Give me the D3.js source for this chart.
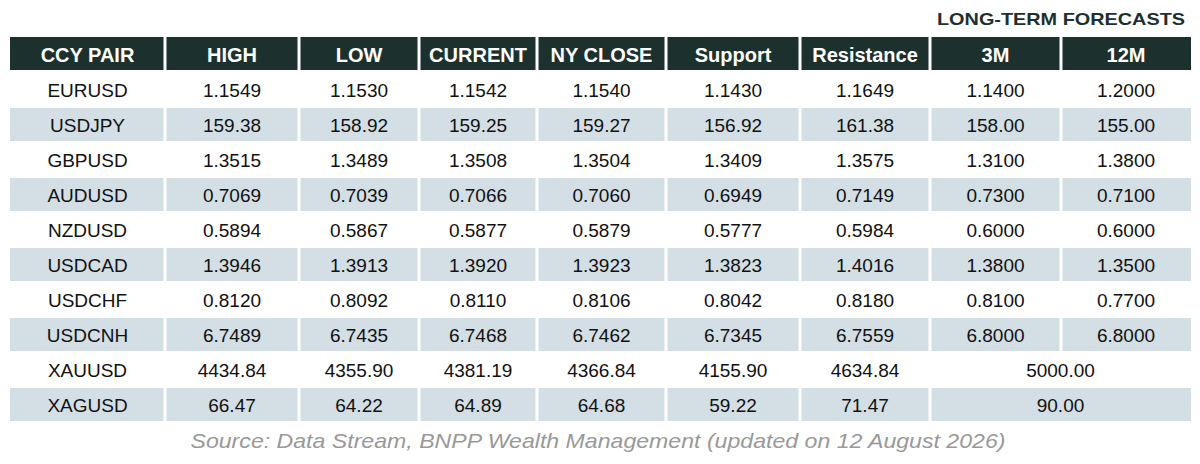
<!DOCTYPE html>
<html><head><meta charset="utf-8">
<script src="https://cdn.jsdelivr.net/npm/d3@7"></script>
<style>body{margin:0;background:#fff}text{font-family:"Liberation Sans",Arial,sans-serif}</style>
</head><body><svg id="c" width="1200" height="464"></svg>
<script>
var columns = ["CCY PAIR","HIGH","LOW","CURRENT","NY CLOSE","Support","Resistance","3M","12M"];
var pairs = ["EURUSD","USDJPY","GBPUSD","AUDUSD","NZDUSD","USDCAD","USDCHF","USDCNH","XAUUSD","XAGUSD"];
var high = ["1.1549","159.38","1.3515","0.7069","0.5894","1.3946","0.8120","6.7489","4434.84","66.47"];
var low = ["1.1530","158.92","1.3489","0.7039","0.5867","1.3913","0.8092","6.7435","4355.90","64.22"];
var current = ["1.1542","159.25","1.3508","0.7066","0.5877","1.3920","0.8110","6.7468","4381.19","64.89"];
var nyClose = ["1.1540","159.27","1.3504","0.7060","0.5879","1.3923","0.8106","6.7462","4366.84","64.68"];
var support = ["1.1430","156.92","1.3409","0.6949","0.5777","1.3823","0.8042","6.7345","4155.90","59.22"];
var resistance = ["1.1649","161.38","1.3575","0.7149","0.5984","1.4016","0.8180","6.7559","4634.84","71.47"];
var f3m = ["1.1400","158.00","1.3100","0.7300","0.6000","1.3800","0.8100","6.8000","5000.00","90.00"];
var f12m = ["1.2000","155.00","1.3800","0.7100","0.6000","1.3500","0.7700","6.8000",null,null];

var svg = d3.select("#c");
var edges = [10,165,299,419,537,666,800,930,1061,1191];
var x = function(i){return edges[i];};
var y = d3.scaleBand().domain(d3.range(-1, pairs.length)).range([37, 422]).paddingInner(0);
var gap = 3;

svg.append("text").attr("x",1185).attr("y",25).attr("text-anchor","end")
  .attr("font-weight","bold").attr("font-size",17).attr("fill","#1c302e")
  .attr("textLength",248).attr("lengthAdjust","spacingAndGlyphs").text("LONG-TERM FORECASTS");

// header
columns.forEach(function(c,i){
  svg.append("rect").attr("x",x(i)+(i?gap/2:0)).attr("y",y(-1))
    .attr("width",x(i+1)-x(i)-(i?gap/2:0)-(i<8?gap/2:0)).attr("height",y.bandwidth()-2).attr("fill","#1c302e");
  svg.append("text").attr("x",(x(i)+x(i+1))/2).attr("y",y(-1)+y.bandwidth()/2+7)
    .attr("text-anchor","middle").attr("font-weight","bold").attr("font-size",20).attr("fill","#fff").text(c);
});

var cols = [pairs,high,low,current,nyClose,support,resistance,f3m,f12m];
pairs.forEach(function(p,r){
  var yy = y(r);
  for (var i=0;i<9;i++){
    var merged = f12m[r]===null && i===7;
    if (f12m[r]===null && i===8) continue;
    var x1 = x(i), x2 = merged ? x(9) : x(i+1);
    if (r%2===1){
      svg.append("rect").attr("x",x1+(i?gap/2:0)).attr("y",yy+1)
        .attr("width",x2-x1-(i?gap/2:0)-((merged||i===8)?0:gap/2)).attr("height",y.bandwidth()-2).attr("fill","#d3dfe5");
    }
    svg.append("text").attr("x",(x1+x2)/2).attr("y",yy+y.bandwidth()/2+7)
      .attr("text-anchor","middle").attr("font-size",19).attr("fill","#111").text(cols[i][r]);
  }
});

svg.append("text").attr("x",598).attr("y",448).attr("text-anchor","middle")
  .attr("font-style","italic").attr("font-size",21).attr("fill","#999")
  .attr("textLength",815).attr("lengthAdjust","spacingAndGlyphs")
  .text("Source: Data Stream, BNPP Wealth Management (updated on 12 August 2026)");
</script></body></html>
